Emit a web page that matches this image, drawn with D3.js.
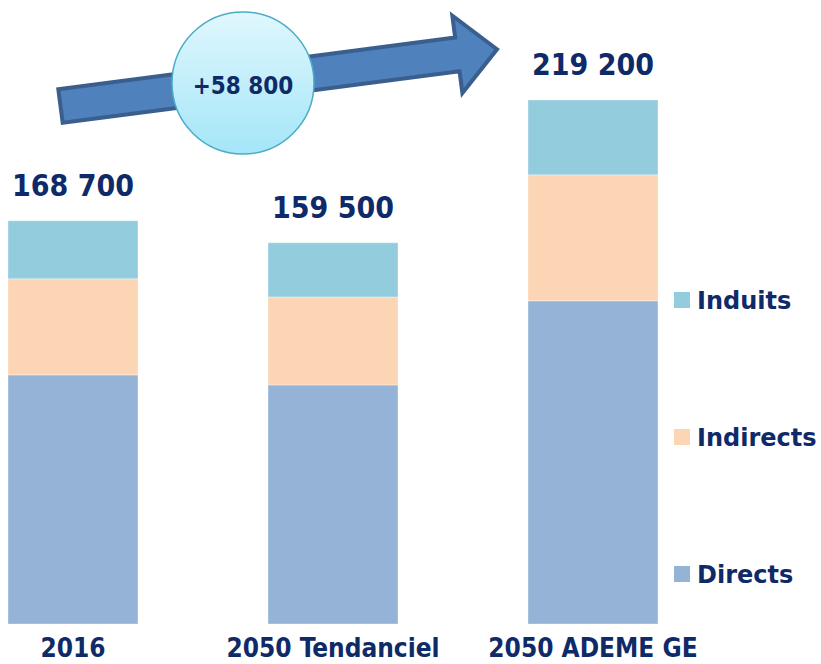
<!DOCTYPE html>
<html>
<head>
<meta charset="utf-8">
<script src="https://cdn.jsdelivr.net/npm/d3@7"></script>
<style>
  body { margin: 0; background: #fff; }
  svg text { font-family: "DejaVu Sans Condensed", "DejaVu Sans", sans-serif; font-weight: bold; fill: #0f2a68; }
  svg text.leg { font-family: "DejaVu Sans", sans-serif; }
</style>
</head>
<body>
<div id="chart"></div>
<script>
// données
const categories = ["2016", "2050 Tendanciel", "2050 ADEME GE"];
const series = ["Directs", "Indirects", "Induits"];
const directs = [104200, 100000, 135200];
const indirects = [40200, 36800, 52700];
const induits = [24300, 22700, 31300];
const totals = [168700, 159500, 219200];
const gainLabel = "+58 800";

const colors = { Directs: "#95b3d7", Indirects: "#fcd5b5", Induits: "#93cddd" };

const width = 821, height = 664;

const svg = d3.select("#chart").append("svg")
    .attr("width", width)
    .attr("height", height);

// échelles
const x = d3.scaleBand()
    .domain(categories)
    .range([-57, 723])
    .paddingInner(0.5)
    .paddingOuter(0.25);

const y = d3.scaleLinear()
    .domain([0, totals[2]])
    .range([624, 100]);

// table pour d3.stack
const table = categories.map((c, i) => ({
    cat: c, Directs: directs[i], Indirects: indirects[i], Induits: induits[i]
}));
const stacked = d3.stack().keys(series)(table);

svg.append("g").selectAll("g")
    .data(stacked)
    .join("g")
    .attr("fill", d => colors[d.key])
    .selectAll("rect")
    .data(d => d)
    .join("rect")
    .attr("x", d => x(d.data.cat))
    .attr("y", d => y(d[1]))
    .attr("width", x.bandwidth())
    .attr("height", d => y(d[0]) - y(d[1]))
    .attr("stroke", "#ffffff")
    .attr("stroke-opacity", 0.35)
    .attr("stroke-width", 1);

// totaux au-dessus des barres
svg.append("g").selectAll("text")
    .data(categories)
    .join("text")
    .attr("x", d => x(d) + x.bandwidth() / 2)
    .attr("y", (d, i) => y(totals[i]) - 25)
    .attr("text-anchor", "middle")
    .style("font-size", "30px")
    .text((d, i) => d3.format(",")(totals[i]).replace(/,/g, " "));

// libellés des catégories
svg.append("g").selectAll("text")
    .data(categories)
    .join("text")
    .attr("x", d => x(d) + x.bandwidth() / 2)
    .attr("y", 657)
    .attr("text-anchor", "middle")
    .style("font-size", "26px")
    .text(d => d);

// légende
const legendY = { Induits: 300, Indirects: 437, Directs: 574 };
const legend = svg.append("g").selectAll("g")
    .data(["Induits", "Indirects", "Directs"])
    .join("g")
    .attr("transform", d => `translate(674,${legendY[d]})`);
legend.append("rect")
    .attr("x", 0).attr("y", -8)
    .attr("width", 16).attr("height", 16)
    .attr("fill", d => colors[d]);
legend.append("text")
    .attr("class", "leg")
    .attr("x", 23).attr("y", 9)
    .style("font-size", "24px")
    .text(d => d);

// flèche
const tail = [60.5, 106], tip = [499, 49];
const ang = Math.atan2(tip[1] - tail[1], tip[0] - tail[0]) * 180 / Math.PI;
const L = Math.hypot(tip[0] - tail[0], tip[1] - tail[1]) - 2;
const arrowPts = [[0, -17], [L - 40, -17], [L - 40, -39], [L, 0], [L - 40, 39], [L - 40, 17], [0, 17]];
svg.append("polygon")
    .attr("transform", `translate(${tail[0]},${tail[1]}) rotate(${ang})`)
    .attr("points", arrowPts.map(p => p.join(",")).join(" "))
    .attr("fill", "#4f81bd")
    .attr("stroke", "#3a5f8f")
    .attr("stroke-width", 4)
    .attr("stroke-linejoin", "miter");

// cercle
const defs = svg.append("defs");
const grad = defs.append("linearGradient")
    .attr("id", "bulle")
    .attr("x1", 0).attr("y1", 0).attr("x2", 0).attr("y2", 1);
grad.append("stop").attr("offset", "0%").attr("stop-color", "#e0f7fd");
grad.append("stop").attr("offset", "100%").attr("stop-color", "#a4e6f8");

svg.append("circle")
    .attr("cx", 243).attr("cy", 83).attr("r", 71)
    .attr("fill", "url(#bulle)")
    .attr("stroke", "#4aacc6")
    .attr("stroke-width", 1.5);

svg.append("text")
    .attr("x", 243).attr("y", 94)
    .attr("text-anchor", "middle")
    .style("font-size", "24px")
    .text(gainLabel);
</script>
</body>
</html>
